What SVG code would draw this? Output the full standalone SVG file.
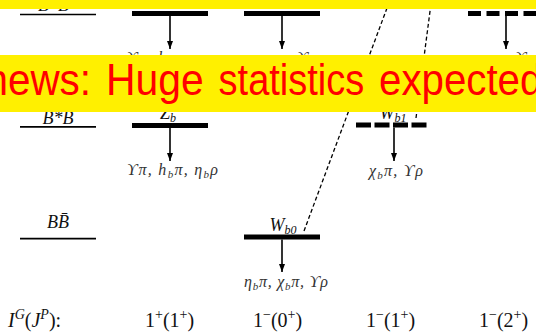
<svg xmlns="http://www.w3.org/2000/svg" width="536" height="335" viewBox="0 0 536 335">
<style>
.lvl{stroke:#000;stroke-width:5;fill:none}
.dl{stroke:#000;stroke-width:5;fill:none;stroke-dasharray:15 3.5}
.thr{stroke:#000;stroke-width:1.7;fill:none}
.arr{stroke:#000;stroke-width:1.6;fill:none;marker-end:url(#ah)}
.dsh{stroke:#000;stroke-width:1.3;fill:none;stroke-dasharray:4 2.5}
.lab{font-family:"Liberation Serif","DejaVu Serif",serif;font-style:italic;font-size:18px;fill:#111}
.dec{font-family:"Liberation Serif","DejaVu Serif",serif;font-style:italic;font-size:16px;fill:#333}
.qn{font-family:"Liberation Serif","DejaVu Serif",serif;font-size:20px;fill:#111}
.ban{fill:#fff000}
.news{font-family:"Liberation Sans","DejaVu Sans",sans-serif;font-size:45px;fill:#ff0000}
</style>
<defs>
<marker id="ah" viewBox="0 0 8 6" refX="8" refY="3" markerWidth="8" markerHeight="6" markerUnits="userSpaceOnUse" orient="auto">
<path d="M0,0 L8,3 L0,6 z" fill="#000"/>
</marker>
</defs>

<g id="connectors">
<line class="dsh" x1="304" y1="231" x2="390" y2="0"/>
<line class="dsh" x1="416" y1="118" x2="431.5" y2="0"/>
<line class="arr" x1="170" y1="16" x2="170" y2="49"/>
<line class="arr" x1="282" y1="16" x2="282" y2="49"/>
<line class="arr" x1="506" y1="16" x2="506" y2="49"/>
<line class="arr" x1="170" y1="128" x2="170" y2="161"/>
<line class="arr" x1="394" y1="127.5" x2="394" y2="161"/>
<line class="arr" x1="282" y1="239.5" x2="282" y2="272"/>
</g>

<g id="thr-BstarBstar">
<line class="thr" x1="20" y1="14.5" x2="96" y2="14.5"/>
<text class="lab" x="58" y="11" text-anchor="middle">B*B̄*</text>
</g>
<g id="thr-BstarB">
<line class="thr" x1="20" y1="126.8" x2="96" y2="126.8"/>
<text class="lab" x="58" y="124" text-anchor="middle">B*B̄</text>
</g>
<g id="thr-BB">
<line class="thr" x1="20" y1="238.7" x2="96" y2="238.7"/>
<text class="lab" x="58" y="228" text-anchor="middle">BB̄</text>
</g>

<g id="Zbprime">
<line class="lvl" x1="132" y1="13.5" x2="208" y2="13.5"/>
<text class="lab" x="170" y="6" text-anchor="middle">Z′<tspan dy="3" font-size="12">b</tspan></text>
<text class="dec" x="127" y="63" textLength="91" lengthAdjust="spacing">ϒπ, h<tspan dy="3" font-size="11">b</tspan><tspan dy="-3">π, η</tspan><tspan dy="3" font-size="11">b</tspan><tspan dy="-3">ρ</tspan></text>
</g>
<g id="Wb0prime">
<line class="lvl" x1="244" y1="13.5" x2="320" y2="13.5"/>
<text class="lab" x="283" y="6" text-anchor="middle">W′<tspan dy="3" font-size="12">b0</tspan></text>
<text class="dec" x="232" y="63" textLength="84" lengthAdjust="spacing">η<tspan dy="3" font-size="11">b</tspan><tspan dy="-3">π, χ</tspan><tspan dy="3" font-size="11">b</tspan><tspan dy="-3">π, ϒρ</tspan></text>
</g>
<g id="Wb2">
<line class="lvl" x1="468" y1="13.5" x2="544" y2="13.5" style="stroke-dasharray:13 5.5"/>
<text class="lab" x="490" y="6" text-anchor="middle">W<tspan dy="3" font-size="12">b2</tspan></text>
<text class="dec" x="481" y="63" textLength="54" lengthAdjust="spacing">χ<tspan dy="3" font-size="11">b</tspan><tspan dy="-3">π, ϒρ</tspan></text>
</g>

<g id="Zb">
<line class="lvl" x1="132" y1="125.5" x2="208" y2="125.5"/>
<text class="lab" x="168" y="118.5" text-anchor="middle">Z<tspan dy="3" font-size="12">b</tspan></text>
<text class="dec" x="127" y="175" textLength="91" lengthAdjust="spacing">ϒπ, h<tspan dy="3" font-size="11">b</tspan><tspan dy="-3">π, η</tspan><tspan dy="3" font-size="11">b</tspan><tspan dy="-3">ρ</tspan></text>
</g>
<g id="Wb1">
<line class="dl" x1="356" y1="125" x2="430" y2="125"/>
<text class="lab" x="393" y="118.5" text-anchor="middle">W<tspan dy="3" font-size="12">b1</tspan></text>
<text class="dec" x="369" y="176" textLength="54" lengthAdjust="spacing">χ<tspan dy="3" font-size="11">b</tspan><tspan dy="-3">π, ϒρ</tspan></text>
</g>
<g id="Wb0">
<line class="lvl" x1="244" y1="237" x2="320" y2="237"/>
<text class="lab" x="283" y="231" text-anchor="middle">W<tspan dy="3" font-size="12">b0</tspan></text>
<text class="dec" x="244" y="287" textLength="84" lengthAdjust="spacing">η<tspan dy="3" font-size="11">b</tspan><tspan dy="-3">π, χ</tspan><tspan dy="3" font-size="11">b</tspan><tspan dy="-3">π, ϒρ</tspan></text>
</g>

<g id="quantum-numbers">
<text class="qn" x="8" y="327"><tspan font-style="italic">I</tspan><tspan dy="-8" font-size="14" font-style="italic">G</tspan><tspan dy="8">(</tspan><tspan font-style="italic">J</tspan><tspan dy="-8" font-size="14" font-style="italic">P</tspan><tspan dy="8">):</tspan></text>
<text class="qn" x="145" y="327">1<tspan dy="-8" font-size="14">+</tspan><tspan dy="8">(1</tspan><tspan dy="-8" font-size="14">+</tspan><tspan dy="8">)</tspan></text>
<text class="qn" x="253" y="327">1<tspan dy="-8" font-size="14">−</tspan><tspan dy="8">(0</tspan><tspan dy="-8" font-size="14">+</tspan><tspan dy="8">)</tspan></text>
<text class="qn" x="366" y="327">1<tspan dy="-8" font-size="14">−</tspan><tspan dy="8">(1</tspan><tspan dy="-8" font-size="14">+</tspan><tspan dy="8">)</tspan></text>
<text class="qn" x="479" y="327">1<tspan dy="-8" font-size="14">−</tspan><tspan dy="8">(2</tspan><tspan dy="-8" font-size="14">+</tspan><tspan dy="8">)</tspan></text>
</g>

<g id="banners">
<rect class="ban" x="0" y="0" width="536" height="9"/>
<rect class="ban" x="0" y="55" width="536" height="57"/>
<text class="news" y="95"><tspan x="-14.5" textLength="105.5" lengthAdjust="spacingAndGlyphs">news:</tspan><tspan x="106" textLength="97.6" lengthAdjust="spacingAndGlyphs">Huge</tspan><tspan x="218.6" textLength="145.6" lengthAdjust="spacingAndGlyphs">statistics</tspan><tspan x="379" textLength="163.4" lengthAdjust="spacingAndGlyphs">expected</tspan></text>
</g>
</svg>
